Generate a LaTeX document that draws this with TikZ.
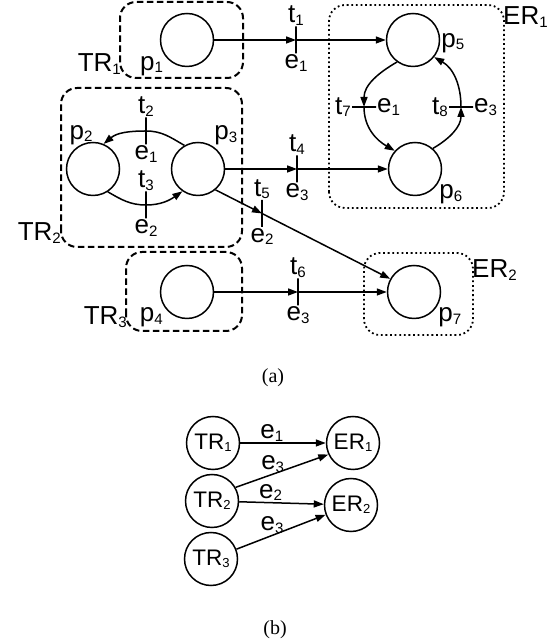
\documentclass[tikz,border=0pt]{standalone}
\usepackage{fontspec}
\setmainfont{Liberation Sans}
\newfontfamily\capfont{Liberation Serif}
\usepackage{graphicx}
\usetikzlibrary{arrows.meta,positioning}
\newcommand{\sub}[1]{\raisebox{-.1em}{\scalebox{.58}{#1}}}

\tikzset{
 place/.style={circle,draw,line width=1.5pt,minimum size=53pt,inner sep=0pt},
 vbar/.style={draw,line width=1.6pt,minimum width=0pt,minimum height=27pt,inner sep=0pt,outer sep=0pt},
 hbar/.style={draw,line width=1.6pt,minimum width=24pt,minimum height=0pt,inner sep=0pt,outer sep=0pt},
 lbl/.style={font=\fontsize{26}{28}\selectfont,inner sep=1pt},
 arc/.style={line width=1.5pt},
 flow/.style={arc,-{Triangle[length=10pt,width=7pt]}},
 trbox/.style={line width=2pt,dash pattern=on 6.5pt off 3.5pt,rounded corners=16pt},
 erbox/.style={line width=1.8pt,dash pattern=on 1.8pt off 2.8pt,rounded corners=16pt},
 gnode/.style={circle,draw,line width=1.5pt,minimum size=53pt,inner sep=0pt,font=\fontsize{22.5}{24}\selectfont},
 captxt/.style={font=\capfont\fontsize{20}{22}\selectfont}
}

\begin{document}
\begin{tikzpicture}[x=1pt,y=1pt]
\useasboundingbox (0,0) rectangle (551,644);

% (a) places
\node[place,label={[lbl]-147:p\sub1}] (p1) at (187,604) {};
\node[place,label={[lbl,xshift=-12pt,yshift=-4pt]above:p\sub2}] (p2) at (93,475) {};
\node[place,label={[lbl]56:p\sub3}] (p3) at (198,475) {};
\node[place,label={[lbl]-148:p\sub4}] (p4) at (187,352) {};
\node[place,label={[lbl,yshift=-3pt]right:p\sub5}] (p5) at (413,604) {};
\node[place,label={[lbl]-32:p\sub6}] (p6) at (415,475) {};
\node[place,label={[lbl]-32:p\sub7}] (p7) at (414,352) {};

% transitions
\node[vbar,label={[lbl]above:t\sub1},label={[lbl]below:e\sub1}] (t1) at (296,604) {};
\node[vbar,label={[lbl]above:t\sub2},label={[lbl]below:e\sub1}] (t2) at (146,513) {};
\node[vbar,label={[lbl]above:t\sub3},label={[lbl]below:e\sub2}] (t3) at (146,439) {};
\node[vbar,label={[lbl]above:t\sub4},label={[lbl]below:e\sub3}] (t4) at (297,475) {};
\node[vbar,label={[lbl]above:t\sub5},label={[lbl]below:e\sub2}] (t5) at (262,430.5) {};
\node[vbar,label={[lbl]above:t\sub6},label={[lbl]below:e\sub3}] (t6) at (298,352) {};
\node[hbar,label={[lbl]left:t\sub7},label={[lbl]right:e\sub1}] (t7) at (364,537) {};
\node[hbar,label={[lbl]left:t\sub8},label={[lbl]right:e\sub3}] (t8) at (461,537) {};

% regions
\draw[trbox] (120,566) rectangle (243,642);
\draw[trbox] (61,397) rectangle (242,556);
\draw[trbox] (126,313) rectangle (242,392);
\draw[erbox] (329,436) rectangle (504,639);
\draw[erbox] (364,309) rectangle (473,391);
\node[lbl,anchor=east] (TR1name) at (122,580) {TR\sub1};
\node[lbl,anchor=east] (TR2name) at (62,411) {TR\sub2};
\node[lbl,anchor=east] (TR3name) at (128,327) {TR\sub3};
\node[lbl,anchor=west] (ER1name) at (502,627) {ER\sub1};
\node[lbl,anchor=west] (ER2name) at (471,374) {ER\sub2};

% arcs
\draw[flow] (p1) -- (t1);
\draw[flow] (t1) -- (p5);
\draw[flow] (p3) -- (t4);
\draw[flow] (t4) -- (p6);
\draw[flow] (p3.-50) -- (t5);
\draw[flow] (t5) -- (p7.151);
\draw[flow] (p4) -- (t6);
\draw[flow] (t6) -- (p7);
\draw[arc] (p3.120) to[out=150,in=0] (t2);
\draw[flow] (t2) to[out=180,in=40] (p2.67);
\draw[arc] (p2.-57) to[out=-30,in=180] (t3);
\draw[flow] (t3) to[out=0,in=-145] (p3.-125);
\draw[flow] (p5.-126) to[out=-150,in=90] (t7);
\draw[flow] (t7) to[out=-90,in=150] (p6.138);
\draw[flow] (p6.49) to[out=30,in=-90] (t8);
\draw[flow] (t8) to[out=90,in=-30] (p5.-39);

\node[captxt] (capa) at (273,266) {(a)};

% (b) region graph
\node[gnode] (tr1) at (213,201) {TR\sub1};
\node[gnode] (er1) at (353,201) {ER\sub1};
\node[gnode] (tr2) at (212,143) {TR\sub2};
\node[gnode] (er2) at (351,139) {ER\sub2};
\node[gnode] (tr3) at (211,85) {TR\sub3};
\draw[flow] (tr1) -- node[lbl,above,pos=.37] {e\sub1} (er1);
\draw[flow] (tr2.30) -- node[lbl,above,pos=.4] {e\sub3} (er1.205);
\draw[flow] (tr2) -- node[lbl,above,pos=.37] {e\sub2} (er2);
\draw[flow] (tr3) -- node[lbl,above,pos=.4] {e\sub3} (er2);

\node[captxt] (capb) at (275,14) {(b)};
\end{tikzpicture}
\end{document}
